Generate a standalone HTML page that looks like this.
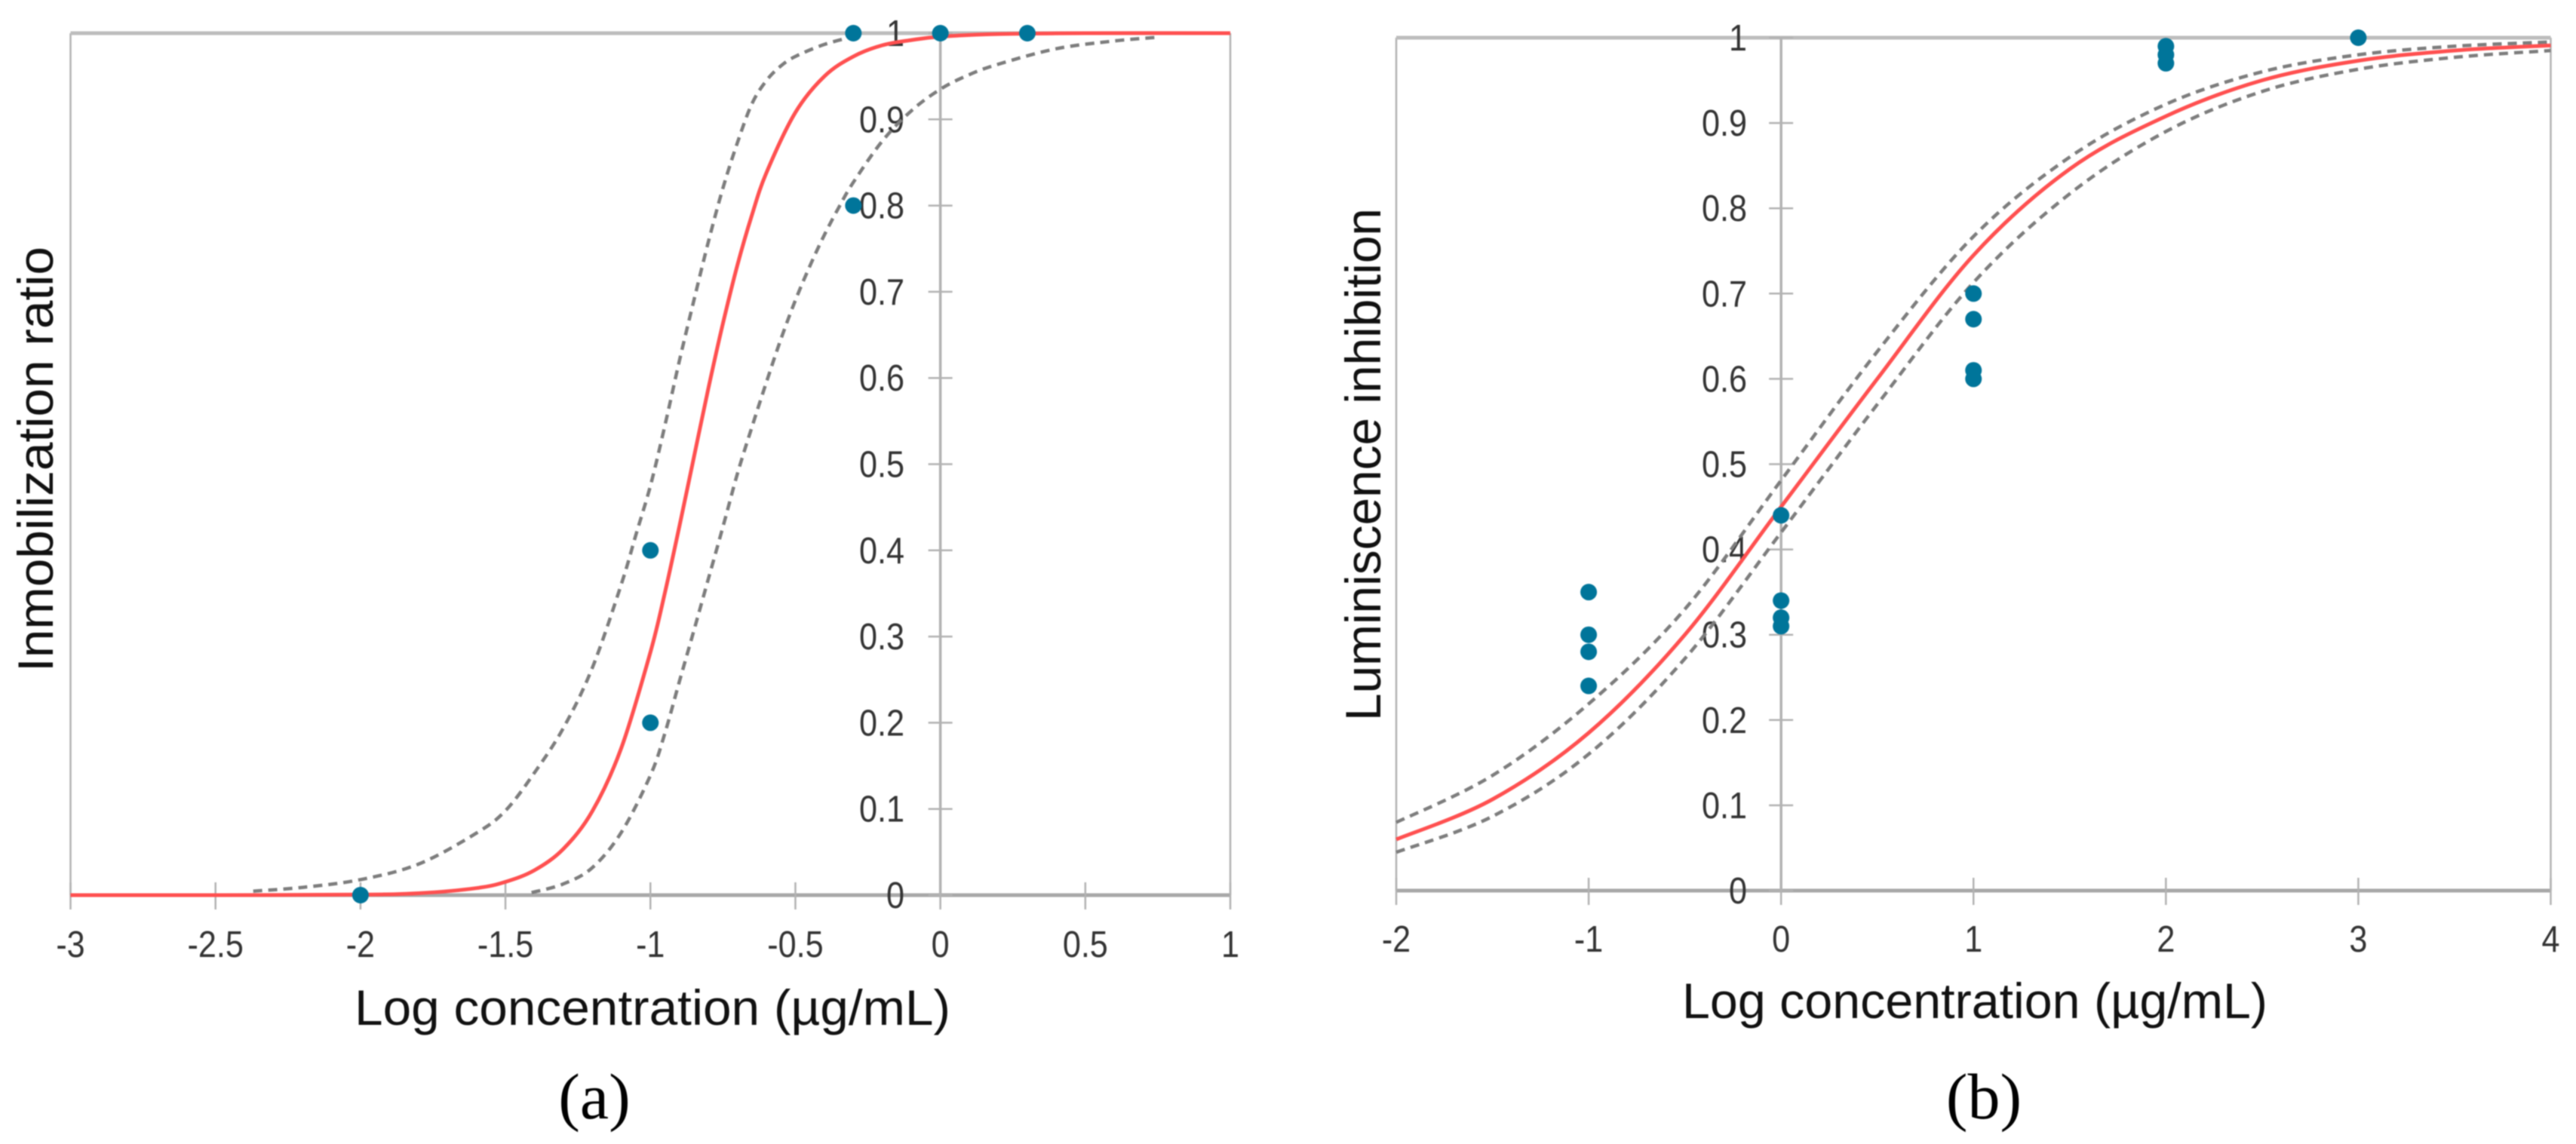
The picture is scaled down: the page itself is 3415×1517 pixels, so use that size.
<!DOCTYPE html>
<html lang="en">
<head>
<meta charset="utf-8">
<title>Dose-response curves</title>
<style>
html,body{margin:0;padding:0;background:#fff;width:3415px;height:1517px;overflow:hidden}
svg{display:block;filter:blur(0.7px)}
text{font-family:"Liberation Sans",sans-serif}
</style>
</head>
<body>
<svg id="figure" xmlns="http://www.w3.org/2000/svg" width="3415" height="1517" viewBox="0 0 3415 1517">
  <rect x="0" y="0" width="3415" height="1517" fill="#fff"/>
  <g id="panel-a"></g>
  <g id="panel-b"></g>
  <text x="788" y="1483" text-anchor="middle" style="font-family:'Liberation Serif',serif" font-size="86" fill="#000">(a)</text>
  <text x="2630" y="1483" text-anchor="middle" style="font-family:'Liberation Serif',serif" font-size="86" fill="#000">(b)</text>
</svg>
<script>
// Panel (a) values
var aXTicks = [-3,-2.5,-2,-1.5,-1,-0.5,0,0.5,1];
var aYTicks = [0,0.1,0.2,0.3,0.4,0.5,0.6,0.7,0.8,0.9,1];
var aFitX = [-3,-2.5,-2,-1.8,-1.6,-1.5,-1.4,-1.3,-1.2,-1.1,-1,-0.95,-0.9,-0.85,-0.8,-0.75,-0.7,-0.65,-0.6,-0.5,-0.4,-0.3,-0.2,-0.1,0,0.2,0.5,1];
var aFitY = [0,0,0.0006,0.0022,0.0081,0.0154,0.0289,0.0537,0.0976,0.171,0.282,0.351,0.428,0.508,0.588,0.663,0.731,0.789,0.838,0.908,0.95,0.973,0.986,0.992,0.996,0.999,1,1];
var aUpperX = [-2.37,-2.2,-2,-1.8,-1.6,-1.5,-1.4,-1.3,-1.2,-1.1,-1.05,-1,-0.95,-0.9,-0.85,-0.8,-0.75,-0.7,-0.65,-0.6,-0.55,-0.5,-0.4,-0.3];
var aUpperY = [0.0046,0.009,0.018,0.036,0.072,0.098,0.142,0.194,0.264,0.361,0.418,0.475,0.545,0.62,0.69,0.758,0.82,0.873,0.918,0.945,0.962,0.973,0.987,0.996];
var aLowerX = [-1.41,-1.3,-1.2,-1.1,-1,-0.95,-0.9,-0.85,-0.8,-0.75,-0.7,-0.65,-0.6,-0.55,-0.5,-0.45,-0.4,-0.35,-0.3,-0.2,-0.1,0,0.1,0.2,0.4,0.6,0.74];
var aLowerY = [0.003,0.013,0.032,0.073,0.139,0.188,0.248,0.307,0.367,0.427,0.489,0.543,0.595,0.645,0.69,0.73,0.766,0.798,0.827,0.875,0.91,0.935,0.952,0.964,0.982,0.991,0.995];
var aDotsX = [-2,-1,-1,-0.3,-0.3,0,0.3];
var aDotsY = [0,0.4,0.2,1,0.8,1,1];

// Panel (b) values
var bXTicks = [-2,-1,0,1,2,3,4];
var bYTicks = [0,0.1,0.2,0.3,0.4,0.5,0.6,0.7,0.8,0.9,1];
var bCurveX = [-2,-1.5,-1,-0.5,0,0.5,1,1.5,2,2.5,3,3.5,4];
var bFitY = [0.06,0.107,0.185,0.3,0.45,0.6,0.745,0.846,0.908,0.95,0.973,0.985,0.991];
var bUpperY = [0.08,0.135,0.219,0.33,0.481,0.632,0.767,0.86,0.922,0.96,0.98,0.99,0.995];
var bLowerY = [0.045,0.087,0.16,0.272,0.42,0.57,0.713,0.817,0.89,0.937,0.963,0.977,0.985];
var bDotsX = [-1,-1,-1,-1,0,0,0,0,1,1,1,1,2,2,2,3];
var bDotsY = [0.35,0.3,0.28,0.24,0.44,0.34,0.32,0.31,0.7,0.67,0.61,0.6,0.99,0.98,0.97,1];

var NS = 'http://www.w3.org/2000/svg';

function mk(parent, tag, attrs, txt) {
  var el = document.createElementNS(NS, tag);
  for (var k in attrs) { el.setAttribute(k, attrs[k]); }
  if (txt !== undefined) { el.textContent = txt; }
  parent.appendChild(el);
  return el;
}

function squeeze(el, factor) {
  var len = el.getComputedTextLength();
  el.setAttribute('textLength', (len * factor).toFixed(1));
  el.setAttribute('lengthAdjust', 'spacingAndGlyphs');
}

function curvePath(xs, ys, sx, sy) {
  var p = [];
  for (var i = 0; i < xs.length; i++) { p.push([sx(xs[i]), sy(ys[i])]); }
  var d = 'M' + p[0][0].toFixed(1) + ' ' + p[0][1].toFixed(1);
  for (var j = 0; j < p.length - 1; j++) {
    var p0 = p[Math.max(j - 1, 0)], p1 = p[j], p2 = p[j + 1], p3 = p[Math.min(j + 2, p.length - 1)];
    var c1x = p1[0] + (p2[0] - p0[0]) / 6, c1y = p1[1] + (p2[1] - p0[1]) / 6;
    var c2x = p2[0] - (p3[0] - p1[0]) / 6, c2y = p2[1] - (p3[1] - p1[1]) / 6;
    d += 'C' + c1x.toFixed(1) + ' ' + c1y.toFixed(1) + ' ' + c2x.toFixed(1) + ' ' + c2y.toFixed(1) + ' ' + p2[0].toFixed(1) + ' ' + p2[1].toFixed(1);
  }
  return d;
}

function drawPanel(cfg) {
  var g = document.getElementById(cfg.id);
  var xMin = cfg.xTicks[0], xMax = cfg.xTicks[cfg.xTicks.length - 1];
  var sx = function (v) { return cfg.left + (v - xMin) / (xMax - xMin) * (cfg.right - cfg.left); };
  var sy = function (v) { return cfg.bottom - v * (cfg.bottom - cfg.top); };
  var axis = '#b2b2b2';
  var el;

  el = mk(g, 'line', {x1: cfg.left, x2: cfg.left, y1: cfg.top, y2: cfg.bottom, stroke: axis, 'stroke-width': 2.5});
  
  
  el = mk(g, 'line', {x1: cfg.right, x2: cfg.right, y1: cfg.top, y2: cfg.bottom, stroke: axis, 'stroke-width': 2.5});
  
  
  el = mk(g, 'line', {x1: cfg.left, x2: cfg.right, y1: cfg.top, y2: cfg.top, stroke: '#bdbdbd', 'stroke-width': 5});
  
  
  el = mk(g, 'line', {x1: cfg.left, x2: cfg.right, y1: cfg.bottom, y2: cfg.bottom, stroke: '#a8a8a8', 'stroke-width': 5});
  
  
  el = mk(g, 'line', {x1: sx(0), x2: sx(0), y1: cfg.top, y2: cfg.bottom, stroke: axis, 'stroke-width': 3.5});
  
  

  cfg.xTicks.forEach(function (v) {
    var t = mk(g, 'line', {x1: sx(v), x2: sx(v), y1: cfg.bottom - 17, y2: cfg.bottom + 19, stroke: axis, 'stroke-width': 2.5});
    
    
    var l = mk(g, 'text', {x: sx(v), y: cfg.xLabelY, 'text-anchor': 'middle', 'font-size': 49, fill: '#333'}, String(v));
    
    
    squeeze(l, 0.88);
  });

  cfg.yTicks.forEach(function (v) {
    var t = mk(g, 'line', {x1: sx(0) - 16, x2: sx(0) + 16, y1: sy(v), y2: sy(v), stroke: axis, 'stroke-width': 2.5});
    
    
    var l = mk(g, 'text', {x: cfg.yLabelX, y: sy(v) + 17, 'text-anchor': 'end', 'font-size': 49, fill: '#333'}, String(v));
    
    
    squeeze(l, 0.88);
  });

  el = mk(g, 'path', {d: curvePath(cfg.upperX, cfg.upperY, sx, sy), fill: 'none', stroke: '#7d7d7d', 'stroke-width': 4.5, 'stroke-dasharray': '12 8'});
  
  
  el = mk(g, 'path', {d: curvePath(cfg.lowerX, cfg.lowerY, sx, sy), fill: 'none', stroke: '#7d7d7d', 'stroke-width': 4.5, 'stroke-dasharray': '12 8'});
  
  
  el = mk(g, 'path', {d: curvePath(cfg.fitX, cfg.fitY, sx, sy), fill: 'none', stroke: '#ff5050', 'stroke-width': 5});
  
  

  cfg.dotsX.forEach(function (v, i) {
    var c = mk(g, 'circle', {cx: sx(v), cy: sy(cfg.dotsY[i]), r: 11, fill: '#00759a'});
    
    
  });

  el = mk(g, 'text', {x: cfg.xTitleX, y: cfg.xTitleY, 'text-anchor': 'middle', 'font-size': 66, fill: '#111', textLength: cfg.xTitleLen, lengthAdjust: 'spacingAndGlyphs'}, 'Log concentration (\u00b5g/mL)');
  
  
  el = mk(g, 'text', {x: 0, y: 0, transform: 'translate(' + cfg.yTitleX + ' ' + cfg.yTitleY + ') rotate(-90)', 'text-anchor': 'middle', 'font-size': 66, fill: '#111', textLength: cfg.yTitleLen, lengthAdjust: 'spacingAndGlyphs'}, cfg.yTitle);
  
  
}

drawPanel({
  id: 'panel-a', left: 93.5, right: 1631, top: 44, bottom: 1187,
  xTicks: aXTicks, yTicks: aYTicks,
  fitX: aFitX, fitY: aFitY, upperX: aUpperX, upperY: aUpperY, lowerX: aLowerX, lowerY: aLowerY,
  dotsX: aDotsX, dotsY: aDotsY,
  xLabelY: 1269, yLabelX: 1199,
  xTitleX: 865, xTitleY: 1359, xTitleLen: 790,
  yTitle: 'Inmobilization ratio', yTitleX: 70, yTitleY: 609, yTitleLen: 564
});
drawPanel({
  id: 'panel-b', left: 1851, right: 3381.5, top: 50, bottom: 1181,
  xTicks: bXTicks, yTicks: bYTicks,
  fitX: bCurveX, fitY: bFitY, upperX: bCurveX, upperY: bUpperY, lowerX: bCurveX, lowerY: bLowerY,
  dotsX: bDotsX, dotsY: bDotsY,
  xLabelY: 1262, yLabelX: 2316,
  xTitleX: 2618, xTitleY: 1350, xTitleLen: 776,
  yTitle: 'Luminiscence inhibition', yTitleX: 1830, yTitleY: 616, yTitleLen: 680
});
</script>
</body>
</html>
